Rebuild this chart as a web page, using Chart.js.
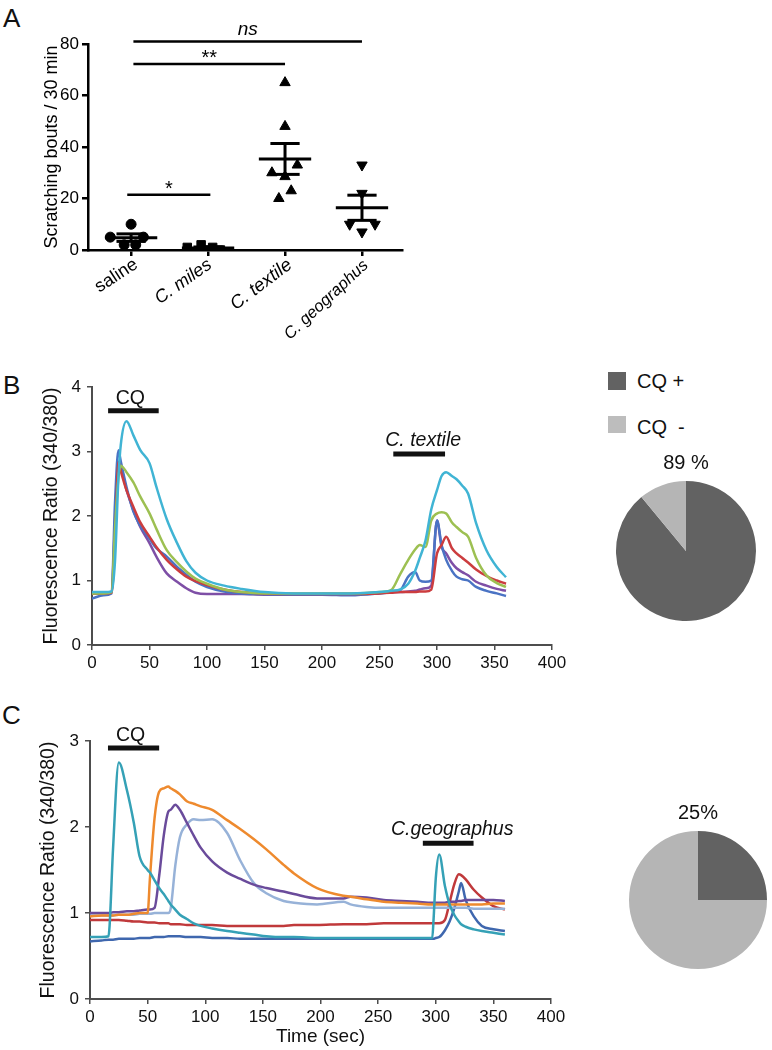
<!DOCTYPE html>
<html>
<head>
<meta charset="utf-8">
<script src="https://cdn.jsdelivr.net/npm/chart.js@4.4.1/dist/chart.umd.min.js"></script>
<style>
  body { margin: 0; width: 772px; height: 1050px; overflow: hidden; background: #fff;
         font-family: "Liberation Sans", Arial, sans-serif; color: #111; }
  canvas { position: absolute; }
  .panel { position: absolute; font-size: 26px; line-height: 26px; }
  .swatch { position: absolute; width: 18px; height: 18px; }
  .legendText { position: absolute; font-size: 20px; line-height: 20px; white-space: pre; }
</style>
</head>
<body>
<div class="panel" style="left:3px;top:5px">A</div>
<div class="panel" style="left:3px;top:372px">B</div>
<div class="panel" style="left:2px;top:702px">C</div>

<canvas id="scratchChart" width="420" height="345" style="left:0;top:0"></canvas>
<canvas id="textileChart" width="580" height="310" style="left:0;top:370px"></canvas>
<canvas id="textilePie" width="172" height="190" style="left:600px;top:445px"></canvas>
<canvas id="geoChart" width="580" height="328" style="left:0;top:722px"></canvas>
<canvas id="geoPie" width="148" height="190" style="left:624px;top:795px"></canvas>

<div class="swatch" style="left:608px;top:372px;background:#626262"></div>
<div class="legendText" style="left:637px;top:371px">CQ +</div>
<div class="swatch" style="left:608px;top:416px;height:17px;background:#bdbdbd"></div>
<div class="legendText" style="left:637px;top:417px">CQ  -</div>

<script>
// ---- panel A: scratching bouts ----
const scratchCategories = ["saline", "C. miles", "C. textile", "C. geographus"];
const salineBouts = [10, 5, 5, 2, 2];
const milesBouts = [1, 2, 0, 1, 0];
const textileBouts = [65, 48, 33, 30, 28.5, 23, 20];
const geographusBouts = [33, 22, 10, 10, 7];
// horizontal scatter of the dots inside each column (category units)
const salineJitter = [0, -0.27, 0.16, -0.09, 0.06];
const milesJitter = [-0.27, -0.09, -0.01, 0.06, 0.16];
const textileJitter = [0, 0, 0.16, -0.17, 0, 0.08, -0.08];
const geographusJitter = [0, 0, -0.16, 0.17, 0];

const sigLabels = ["*", "**", "ns"];
const sigStart = [0.95, 1.03, 1.03];
const sigEnd = [2.03, 3, 4];
const sigLevel = [21.5, 72.2, 81];

// ---- panel B: C. textile calcium traces ----
const textileTime = [0, 10, 17, 20, 23, 25, 30, 36, 42, 50, 56, 65, 74, 82, 90, 100, 115, 130, 150, 175, 200,
  225, 250, 260, 268, 275, 281, 285, 290, 295, 300, 304, 308, 313, 317, 322, 327, 334, 343, 352, 360];
const textileCyan = [0.82, 0.82, 0.83, 1.3, 2.6, 3.1, 3.47, 3.25, 3.02, 2.82, 2.45, 1.95, 1.58, 1.3, 1.12, 1.0, 0.92,
  0.87, 0.82, 0.8, 0.8, 0.8, 0.82, 0.84, 0.86, 0.95, 1.15, 1.35, 1.62, 2.1, 2.4, 2.62, 2.68, 2.62, 2.57, 2.47, 2.35,
  1.89, 1.47, 1.21, 1.05];
const textileGreen = [0.8, 0.8, 0.82, 1.8, 2.6, 2.78, 2.68, 2.52, 2.3, 2.04, 1.8, 1.47, 1.28, 1.14, 1.03, 0.95, 0.86,
  0.82, 0.8, 0.8, 0.8, 0.8, 0.82, 0.85, 1.1, 1.32, 1.48, 1.55, 1.52, 1.93, 2.04, 2.06, 2.04, 1.9, 1.83, 1.75, 1.68,
  1.35, 1.08, 0.96, 0.9];
const textileRed = [0.8, 0.8, 0.81, 1.6, 2.84, 2.7, 2.4, 2.14, 1.9, 1.68, 1.52, 1.32, 1.17, 1.06, 0.99, 0.93, 0.86,
  0.82, 0.8, 0.79, 0.79, 0.79, 0.8, 0.81, 0.82, 0.82, 0.82, 0.83, 0.83, 0.86, 1.42, 1.55, 1.68, 1.5, 1.42, 1.35, 1.28,
  1.17, 1.07, 1.0, 0.95];
const textileBlue = [0.72, 0.77, 0.8, 2.2, 3.02, 2.85, 2.45, 2.07, 1.85, 1.65, 1.5, 1.37, 1.21, 1.09, 0.98, 0.9, 0.83,
  0.8, 0.79, 0.78, 0.78, 0.77, 0.8, 0.82, 0.85, 1.06, 1.13, 1.0, 0.98, 1.0, 1.93, 1.55, 1.32, 1.15, 1.06, 1.02, 1.0,
  0.9, 0.84, 0.8, 0.76];
const textilePurple = [0.8, 0.8, 0.81, 1.9, 2.7, 2.72, 2.4, 2.09, 1.83, 1.58, 1.37, 1.11, 0.98, 0.88, 0.81, 0.79, 0.79,
  0.79, 0.78, 0.78, 0.79, 0.79, 0.81, 0.82, 0.82, 0.83, 0.84, 0.86, 0.88, 0.92, 1.93, 1.52, 1.42, 1.27, 1.19, 1.13,
  1.08, 0.98, 0.92, 0.87, 0.84];
const textileStimLabels = ["CQ", "C. textile"];
const textileStimStart = [14, 262];
const textileStimEnd = [58, 307];
const textileStimLevel = [3.63, 2.96];
const textilePieValues = [89, 11];

// ---- panel C: C. geographus calcium traces ----
const geoTime = [0, 10, 16, 17, 20, 25, 32, 38, 43, 50, 52, 56, 60, 64, 68, 70, 74, 78, 84, 90, 96, 106, 119, 130,
  142, 153, 168, 177, 197, 220, 226, 240, 255, 270, 284, 297, 298, 300, 303, 308, 312, 316, 320, 322, 326, 333, 340,
  350, 360];
const geoTeal = [0.72, 0.72, 0.73, 0.85, 1.75, 2.75, 2.43, 2.05, 1.66, 1.5, 1.47, 1.38, 1.29, 1.22, 1.14, 1.1, 1.04,
  0.98, 0.93, 0.88, 0.85, 0.82, 0.79, 0.77, 0.75, 0.73, 0.72, 0.72, 0.71, 0.71, 0.71, 0.71, 0.71, 0.71, 0.71, 0.71,
  0.9, 1.4, 1.68, 1.31, 1.1, 0.98, 0.9, 0.87, 0.84, 0.81, 0.79, 0.77, 0.75];
const geoOrange = [0.96, 0.97, 0.97, 0.97, 0.97, 0.98, 0.98, 0.99, 1.0, 1.0, 1.4, 2.1, 2.41, 2.45, 2.47, 2.45, 2.42,
  2.38, 2.3, 2.27, 2.24, 2.2, 2.08, 1.98, 1.86, 1.74, 1.56, 1.46, 1.29, 1.2, 1.19, 1.16, 1.13, 1.12, 1.11, 1.1, 1.1,
  1.1, 1.1, 1.1, 1.1, 1.1, 1.1, 1.1, 1.1, 1.1, 1.1, 1.11, 1.11];
const geoPurple = [1.0, 1.0, 1.0, 1.0, 1.01, 1.01, 1.02, 1.02, 1.03, 1.04, 1.04, 1.06, 1.43, 1.9, 2.18, 2.2, 2.26, 2.2,
  2.05, 1.9, 1.76, 1.6, 1.47, 1.4, 1.33, 1.29, 1.25, 1.22, 1.17, 1.17, 1.19, 1.18, 1.15, 1.14, 1.13, 1.12, 1.12, 1.12,
  1.12, 1.12, 1.13, 1.13, 1.14, 1.14, 1.15, 1.15, 1.15, 1.15, 1.14];
const geoLightBlue = [0.97, 0.97, 0.97, 0.97, 0.97, 0.98, 0.98, 0.98, 0.99, 0.99, 0.99, 1.0, 1.0, 1.0, 1.0, 1.05, 1.55,
  1.88, 2.03, 2.09, 2.08, 2.09, 1.93, 1.62, 1.35, 1.23, 1.14, 1.12, 1.1, 1.13, 1.1, 1.07, 1.06, 1.06, 1.06, 1.06, 1.06,
  1.06, 1.06, 1.06, 1.06, 1.06, 1.06, 1.06, 1.06, 1.05, 1.05, 1.05, 1.05];
const geoRed = [0.92, 0.92, 0.92, 0.92, 0.92, 0.92, 0.91, 0.9, 0.9, 0.89, 0.89, 0.89, 0.88, 0.88, 0.88, 0.87, 0.87,
  0.87, 0.86, 0.86, 0.86, 0.86, 0.85, 0.85, 0.85, 0.85, 0.85, 0.86, 0.86, 0.87, 0.87, 0.87, 0.88, 0.88, 0.88, 0.88,
  0.88, 0.88, 0.88, 0.92, 1.12, 1.33, 1.45, 1.44, 1.39, 1.27, 1.18, 1.08, 1.04];
const geoBlue = [0.67, 0.68, 0.69, 0.69, 0.69, 0.7, 0.7, 0.7, 0.71, 0.71, 0.71, 0.72, 0.72, 0.72, 0.73, 0.73, 0.73,
  0.73, 0.72, 0.72, 0.72, 0.71, 0.71, 0.7, 0.7, 0.7, 0.7, 0.7, 0.7, 0.7, 0.7, 0.7, 0.7, 0.7, 0.7, 0.7, 0.7, 0.71,
  0.72, 0.8, 0.9, 1.05, 1.25, 1.35, 1.15, 0.96, 0.85, 0.81, 0.79];
const geoStimLabels = ["CQ", "C.geographus"];
const geoStimStart = [15.6, 288.8];
const geoStimEnd = [60, 332.8];
const geoStimLevel = [2.92, 1.81];
const geoPieValues = [25, 75];

const FONT = "'Liberation Sans', Arial, sans-serif";
Chart.defaults.font.family = FONT;
Chart.defaults.color = "#111";
Chart.defaults.animation = false;

const scratchGroups = [salineBouts, milesBouts, textileBouts, geographusBouts];
const scratchJitters = [salineJitter, milesJitter, textileJitter, geographusJitter];

function meanOf(arr) {
  return arr.reduce((s, v) => s + v, 0) / arr.length;
}

function semOf(arr) {
  const m = meanOf(arr);
  const sd = Math.sqrt(arr.reduce((s, v) => s + (v - m) * (v - m), 0) / (arr.length - 1));
  return sd / Math.sqrt(arr.length);
}

function strokeLine(ctx, x1, y1, x2, y2) {
  ctx.beginPath();
  ctx.moveTo(x1, y1);
  ctx.lineTo(x2, y2);
  ctx.stroke();
}

// draw text so that its glyphs are centred on cy
function centeredText(ctx, text, cx, cy) {
  const m = ctx.measureText(text);
  ctx.textBaseline = "alphabetic";
  ctx.fillText(text, cx, cy + (m.actualBoundingBoxAscent - m.actualBoundingBoxDescent) / 2);
}

// mean + SEM bars and significance brackets for panel A
const meanSemPlugin = {
  id: "meanSem",
  afterDatasetsDraw(chart) {
    const { ctx } = chart;
    const x = chart.scales.x;
    const y = chart.scales.y;
    ctx.save();
    ctx.strokeStyle = "#000";
    ctx.lineWidth = 3;
    scratchGroups.forEach((vals, i) => {
      const c = i + 1;
      const m = meanOf(vals);
      const s = semOf(vals);
      strokeLine(ctx, x.getPixelForValue(c - 0.34), y.getPixelForValue(m), x.getPixelForValue(c + 0.34), y.getPixelForValue(m));
      strokeLine(ctx, x.getPixelForValue(c), y.getPixelForValue(m - s), x.getPixelForValue(c), y.getPixelForValue(m + s));
      strokeLine(ctx, x.getPixelForValue(c - 0.19), y.getPixelForValue(m + s), x.getPixelForValue(c + 0.19), y.getPixelForValue(m + s));
      strokeLine(ctx, x.getPixelForValue(c - 0.19), y.getPixelForValue(m - s), x.getPixelForValue(c + 0.19), y.getPixelForValue(m - s));
    });

    ctx.lineWidth = 2.5;
    ctx.fillStyle = "#000";
    ctx.textAlign = "center";
    sigLabels.forEach((label, i) => {
      const x1 = x.getPixelForValue(sigStart[i]);
      const x2 = x.getPixelForValue(sigEnd[i]);
      const py = y.getPixelForValue(sigLevel[i]);
      strokeLine(ctx, x1, py, x2, py);
      if (label === "ns") {
        ctx.font = "italic 19px " + FONT;
        centeredText(ctx, label, (x1 + x2) / 2, py - 11);
      } else {
        ctx.font = "20px " + FONT;
        centeredText(ctx, label, (x1 + x2) / 2, py - 10);
      }
    });
    ctx.restore();
  },
};

// slanted category names under panel A (the last one is set steeper)
const scratchLabelPlugin = {
  id: "scratchLabels",
  afterDraw(chart) {
    const { ctx } = chart;
    const x = chart.scales.x;
    const base = chart.scales.y.getPixelForValue(0);
    const angles = [33, 35, 37, 43];
    const sizes = [18, 18, 18.5, 16.5];
    const shifts = [5, 2, 5, 4];
    scratchCategories.forEach((label, i) => {
      ctx.save();
      ctx.translate(x.getPixelForValue(i + 1) + shifts[i], base + 13);
      ctx.rotate((-angles[i] * Math.PI) / 180);
      ctx.font = (i === 0 ? "" : "italic ") + sizes[i] + "px " + FONT;
      ctx.fillStyle = "#000";
      ctx.textAlign = "right";
      ctx.textBaseline = "middle";
      ctx.fillText(label, 0, 0);
      ctx.restore();
    });
  },
};

// stimulus bars with their labels for panels B and C
const stimPlugin = {
  id: "stimBars",
  afterDatasetsDraw(chart, args, opts) {
    const { ctx } = chart;
    const x = chart.scales.x;
    const y = chart.scales.y;
    ctx.save();
    ctx.strokeStyle = "#111";
    ctx.fillStyle = "#111";
    ctx.lineWidth = 5;
    ctx.textAlign = "center";
    ctx.textBaseline = "alphabetic";
    opts.labels.forEach((label, i) => {
      const x1 = x.getPixelForValue(opts.start[i]);
      const x2 = x.getPixelForValue(opts.end[i]);
      const py = y.getPixelForValue(opts.level[i]);
      strokeLine(ctx, x1, py, x2, py);
      ctx.font = (label === "CQ" ? "" : "italic ") + "19.5px " + FONT;
      const gap = label === "CQ" ? 7 : 8;
      ctx.fillText(label, (x1 + x2) / 2 + (label === "CQ" ? -3 : 4), py - gap);
    });
    ctx.restore();
  },
};

function createScratchChart() {
  const datasets = scratchGroups.map((vals, i) => ({
    data: vals.map((v, j) => ({ x: i + 1 + scratchJitters[i][j], y: v })),
    backgroundColor: "#000",
    borderColor: "#000",
    pointStyle: ["circle", "rect", "triangle", "triangle"][i],
    rotation: i === 3 ? 180 : 0,
    pointRadius: i === 0 ? 5 : 6,
    pointHoverRadius: 6,
  }));

  new Chart(document.getElementById("scratchChart"), {
    type: "scatter",
    data: { datasets: datasets },
    plugins: [meanSemPlugin, scratchLabelPlugin],
    options: {
      responsive: false,
      devicePixelRatio: 1,
      layout: { padding: { left: 41, top: 44, right: 18, bottom: 0 } },
      plugins: { legend: { display: false }, tooltip: { enabled: false } },
      scales: {
        x: {
          type: "linear",
          min: 0.44,
          max: 4.52,
          afterBuildTicks: (axis) => {
            axis.ticks = scratchCategories.map((c, i) => ({ value: i + 1 }));
          },
          afterFit: (axis) => { axis.height = 95; },
          grid: { drawOnChartArea: false, drawTicks: true, tickLength: 6, color: "#000", lineWidth: 2.5 },
          border: { display: true, color: "#000", width: 2.5 },
          ticks: { display: false },
        },
        y: {
          min: 0,
          max: 80,
          afterFit: (axis) => { axis.width = 47; },
          grid: { drawOnChartArea: false, drawTicks: true, tickLength: 6, color: "#000", lineWidth: 2.5 },
          border: { display: true, color: "#000", width: 2.5 },
          ticks: { stepSize: 20, padding: 3, color: "#000", font: { size: 17 } },
          title: {
            display: true,
            text: "Scratching bouts / 30 min",
            color: "#000",
            font: { size: 18 },
            padding: { top: 0, bottom: 0 },
          },
        },
      },
    },
  });
}

function createTraceChart(canvasId, times, traces, colors, yMax, stim, layout) {
  const datasets = traces.map((vals, i) => ({
    data: vals.map((v, j) => ({ x: times[j], y: v })),
    borderColor: colors[i],
    borderWidth: 2.5,
    pointRadius: 0,
    fill: false,
    cubicInterpolationMode: "monotone",
  }));

  new Chart(document.getElementById(canvasId), {
    type: "line",
    data: { datasets: datasets },
    plugins: [stimPlugin],
    options: {
      responsive: false,
      devicePixelRatio: 1,
      layout: { padding: layout.padding },
      plugins: {
        legend: { display: false },
        tooltip: { enabled: false },
        stimBars: stim,
      },
      scales: {
        x: {
          type: "linear",
          min: 0,
          max: 400,
          afterFit: (axis) => { axis.height = layout.xHeight; },
          grid: { drawOnChartArea: false, drawTicks: true, tickLength: 5, color: "#4d4d4d", lineWidth: 1.5 },
          border: { display: true, color: "#4d4d4d", width: 2 },
          ticks: { stepSize: 50, padding: 3, font: { size: 17 } },
          title: {
            display: !!layout.xTitle,
            text: layout.xTitle || "",
            font: { size: 19 },
            padding: { top: 0, bottom: 2 },
          },
        },
        y: {
          min: 0,
          max: yMax,
          afterFit: (axis) => { axis.width = layout.yWidth; },
          grid: { drawOnChartArea: false, drawTicks: true, tickLength: 5, color: "#4d4d4d", lineWidth: 1.5 },
          border: { display: true, color: "#4d4d4d", width: 2 },
          ticks: { stepSize: 1, padding: 6, font: { size: 17 } },
          title: {
            display: true,
            text: "Fluorescence Ratio (340/380)",
            font: { size: 19.5 },
            padding: { top: 0, bottom: 0 },
          },
        },
      },
    },
  });
}

function createPie(canvasId, values, label, padding) {
  new Chart(document.getElementById(canvasId), {
    type: "pie",
    data: {
      labels: ["CQ +", "CQ -"],
      datasets: [{ data: values, backgroundColor: ["#626262", "#b5b5b5"], borderWidth: 0 }],
    },
    options: {
      responsive: false,
      devicePixelRatio: 1,
      layout: { padding: padding },
      plugins: {
        legend: { display: false },
        tooltip: { enabled: false },
        title: {
          display: true,
          text: label,
          color: "#111",
          font: { size: 20, weight: "normal" },
          padding: { top: 6, bottom: 6 },
        },
      },
    },
  });
}

createScratchChart();

createTraceChart(
  "textileChart",
  textileTime,
  [textileCyan, textileGreen, textileRed, textileBlue, textilePurple],
  ["#40b4d4", "#9dc052", "#cc3d3f", "#4a73c4", "#7e4fa6"],
  4,
  { labels: textileStimLabels, start: textileStimStart, end: textileStimEnd, level: textileStimLevel },
  { padding: { left: 40, top: 17, right: 28, bottom: 0 }, yWidth: 52, xHeight: 35 }
);

createTraceChart(
  "geoChart",
  geoTime,
  [geoTeal, geoOrange, geoPurple, geoLightBlue, geoRed, geoBlue],
  ["#35a1b6", "#ee8a2e", "#6a4b9b", "#97b2d8", "#c0393b", "#3f67ae"],
  3,
  { labels: geoStimLabels, start: geoStimStart, end: geoStimEnd, level: geoStimLevel },
  { padding: { left: 37, top: 19, right: 29, bottom: 0 }, yWidth: 53, xHeight: 51, xTitle: "Time (sec)" }
);

createPie("textilePie", textilePieValues, "89 %", { left: 16, right: 16, bottom: 14 });
createPie("geoPie", geoPieValues, "25%", { left: 4, right: 4, bottom: 16 });
</script>
</body>
</html>
